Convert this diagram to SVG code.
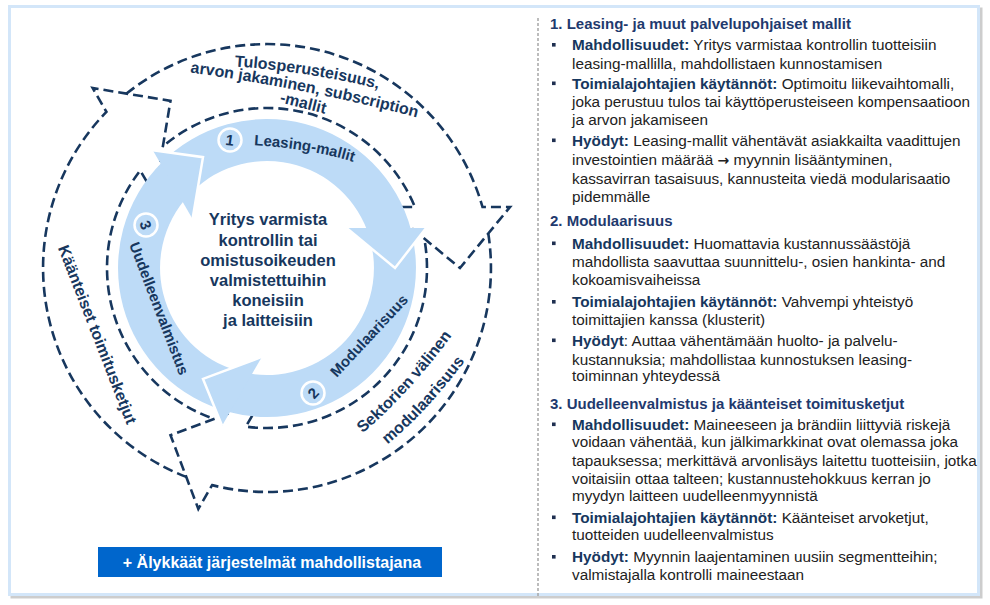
<svg xmlns="http://www.w3.org/2000/svg" width="990" height="605" viewBox="0 0 990 605">
<defs>
<style>
.ring{fill:#bddbf7}
.edge{fill:none;stroke:#fff;stroke-width:2.5;stroke-linejoin:miter}
.dash{fill:none;stroke:#17375e;stroke-width:2.6;stroke-dasharray:10 5}
.lbl{font-family:"Liberation Sans",Arial,sans-serif;font-weight:bold;fill:#17375e;font-size:16px}
.num circle{fill:#bddbf7;stroke:#fff;stroke-width:2.5}
.num text{font-family:"Liberation Sans",Arial,sans-serif;font-weight:bold;fill:#17375e;font-size:15px;text-anchor:middle}
.ctr{font-family:"Liberation Sans",Arial,sans-serif;font-weight:bold;fill:#17375e;font-size:16.5px;text-anchor:middle}
.h{font-family:"Liberation Sans",Arial,sans-serif;font-weight:bold;fill:#1f3a6e;font-size:15px}
.t{font-family:"Liberation Sans",Arial,sans-serif;fill:#222;font-size:15.3px}
.b{font-weight:bold;fill:#17375e}
.arr{font-family:"DejaVu Sans",sans-serif;font-weight:bold;fill:#222}
.bul{fill:#1f2f50}
</style>
<path id="dashArrow" d="M -140.5 -174.4 A 224 224 0 0 1 215.5 -61 L 243 -61 L 193 0 L 119 -61 L 147.9 -61 A 160 160 0 0 0 -104.14 -121.46"/>
<path id="ringBody" d="M -106.39 -104.27 A 149 149 0 0 1 144.07 -38 L 100.02 -38 A 107 107 0 0 0 -84.24 -65.9 Z"/>
<polygon id="ringHead" points="79.6,-40 128,0 159.1,-40"/>
<polyline id="ringEdge" points="79.6,-40 128,0 159.1,-40"/>
<path id="pTop1" d="M236 66.5 Q307.4 71.6 377 88.5"/>
<path id="pTop2" d="M190 72.5 Q304.9 88.1 417 117.5"/>
<path id="pLeasing" d="M250 145 Q311.4 148.2 357 163"/>
<path id="pSek1" d="M364 432 Q406 396.8 451 337"/>
<path id="pSek2" d="M390 442.5 Q426.6 411.8 463 363.5"/>
</defs>

<g id="frame">
<rect x="12" y="9" width="969" height="588" fill="none" stroke="#b8b8b8" stroke-width="3" opacity="0.7"/>
<rect x="9.5" y="6.5" width="969" height="588" fill="#fff" stroke="#d3e6f9" stroke-width="3"/>
<line x1="538" y1="18" x2="538" y2="598" stroke="#a6a6a6" stroke-width="1.5" stroke-dasharray="3 2"/>
</g>

<g id="connectors" class="dash" transform="translate(267 268)">
<use id="arrow-tulos" href="#dashArrow"/>
<use id="arrow-sektorien" href="#dashArrow" transform="rotate(120)"/>
<use id="arrow-kaanteiset" href="#dashArrow" transform="rotate(240)"/>
</g>

<g id="cycle" transform="translate(267 268)">
<use class="ring" href="#ringBody"/>
<use class="ring" href="#ringBody" transform="rotate(120)"/>
<use class="ring" href="#ringBody" transform="rotate(240)"/>
<use class="ring" href="#ringHead"/>
<use class="edge" href="#ringEdge"/>
<use class="ring" href="#ringHead" transform="rotate(120)"/>
<use class="edge" href="#ringEdge" transform="rotate(120)"/>
<use class="ring" href="#ringHead" transform="rotate(240)"/>
<use class="edge" href="#ringEdge" transform="rotate(240)"/>
</g>

<g id="step1" class="num">
<circle cx="230" cy="140" r="11.5"/>
<text x="230" y="145.5" transform="rotate(8 230 140)">1</text>
<text class="lbl"><textPath href="#pLeasing" startOffset="50%" text-anchor="middle">Leasing-mallit</textPath></text>
</g>
<g id="step2" class="num">
<circle cx="313" cy="393" r="11.5"/>
<text x="313" y="398.5" transform="rotate(-47 313 393)">2</text>
<text class="lbl" x="372.9" y="339.2" text-anchor="middle" transform="rotate(-47 372.9 339.2)">Modulaarisuus</text>
</g>
<g id="step3" class="num">
<circle cx="146" cy="225" r="11.5"/>
<text x="146" y="230.5" transform="rotate(69 146 225)">3</text>
<text class="lbl" x="154.3" y="310.4" text-anchor="middle" transform="rotate(69 154.3 310.4)">Uudelleenvalmistus</text>
</g>

<g id="label-tulos">
<text class="lbl"><textPath href="#pTop1" startOffset="50%" text-anchor="middle">Tulosperusteisuus,</textPath></text>
<text class="lbl"><textPath href="#pTop2" startOffset="50%" text-anchor="middle">arvon jakaminen, subscription</textPath></text>
<text class="lbl" x="302" y="108" text-anchor="middle" transform="rotate(14 302 108)">-mallit</text>
</g>
<g id="label-sektorien">
<text class="lbl"><textPath href="#pSek1" startOffset="50%" text-anchor="middle">Sektorien välinen</textPath></text>
<text class="lbl"><textPath href="#pSek2" startOffset="50%" text-anchor="middle">modulaarisuus</textPath></text>
</g>
<g id="label-kaanteiset">
<text class="lbl" x="92.3" y="336.5" text-anchor="middle" transform="rotate(68.7 92.3 336.5)">Käänteiset toimitusketjut</text>
</g>

<g id="center">
<text class="ctr" x="268" y="225">Yritys varmista</text>
<text class="ctr" x="268" y="245.5">kontrollin tai</text>
<text class="ctr" x="268" y="265.5">omistusoikeuden</text>
<text class="ctr" x="268" y="286">valmistettuihin</text>
<text class="ctr" x="268" y="305.5">koneisiin</text>
<text class="ctr" x="268" y="326">ja laitteisiin</text>
</g>

<g id="enabler">
<rect x="98" y="547" width="344" height="30" fill="#0066cc"/>
<text x="272" y="568" text-anchor="middle" font-family="Liberation Sans, Arial, sans-serif" font-weight="bold" font-size="16" fill="#fff">+ Älykkäät järjestelmät mahdollistajana</text>
</g>

<g id="panel">
<g class="bul">
<rect x="552" y="43" width="3.6" height="3.6"/>
<rect x="552" y="81.5" width="3.6" height="3.6"/>
<rect x="552" y="138.5" width="3.6" height="3.6"/>
<rect x="552" y="241.5" width="3.6" height="3.6"/>
<rect x="552" y="300" width="3.6" height="3.6"/>
<rect x="552" y="338.5" width="3.6" height="3.6"/>
<rect x="552" y="422.5" width="3.6" height="3.6"/>
<rect x="552" y="515.5" width="3.6" height="3.6"/>
<rect x="552" y="555" width="3.6" height="3.6"/>
</g>
<text class="h" x="550" y="29">1. Leasing- ja muut palvelupohjaiset mallit</text>
<text class="t" x="572" y="50"><tspan class="b">Mahdollisuudet:</tspan> Yritys varmistaa kontrollin tuotteisiin</text>
<text class="t" x="572" y="68.5">leasing-mallilla, mahdollistaen kunnostamisen</text>
<text class="t" x="572" y="88.5"><tspan class="b">Toimialajohtajien käytännöt:</tspan> Optimoitu liikevaihtomalli,</text>
<text class="t" x="572" y="107">joka perustuu tulos tai käyttöperusteiseen kompensaatioon</text>
<text class="t" x="572" y="125">ja arvon jakamiseen</text>
<text class="t" x="572" y="145.5"><tspan class="b">Hyödyt:</tspan> Leasing-mallit vähentävät asiakkailta vaadittujen</text>
<text class="t" x="572" y="164.5">investointien määrää <tspan class="arr" font-size="14">→</tspan> myynnin lisääntyminen,</text>
<text class="t" x="572" y="183.5">kassavirran tasaisuus, kannusteita viedä modularisaatio</text>
<text class="t" x="572" y="202">pidemmälle</text>

<text class="h" x="550" y="226">2. Modulaarisuus</text>
<text class="t" x="572" y="248.5"><tspan class="b">Mahdollisuudet:</tspan> Huomattavia kustannussäästöjä</text>
<text class="t" x="572" y="266.5">mahdollista saavuttaa suunnittelu-, osien hankinta- and</text>
<text class="t" x="572" y="284.5">kokoamisvaiheissa</text>
<text class="t" x="572" y="307"><tspan class="b">Toimialajohtajien käytännöt:</tspan> Vahvempi yhteistyö</text>
<text class="t" x="572" y="324.5">toimittajien kanssa (klusterit)</text>
<text class="t" x="572" y="345.5"><tspan class="b">Hyödyt</tspan>: Auttaa vähentämään huolto- ja palvelu-</text>
<text class="t" x="572" y="364.5">kustannuksia; mahdollistaa kunnostuksen leasing-</text>
<text class="t" x="572" y="381">toiminnan yhteydessä</text>

<text class="h" x="550" y="408.5">3. Uudelleenvalmistus ja käänteiset toimitusketjut</text>
<text class="t" x="572" y="429.5"><tspan class="b">Mahdollisuudet:</tspan> Maineeseen ja brändiin liittyviä riskejä</text>
<text class="t" x="572" y="447">voidaan vähentää, kun jälkimarkkinat ovat olemassa joka</text>
<text class="t" x="572" y="466">tapauksessa; merkittävä arvonlisäys laitettu tuotteisiin, jotka</text>
<text class="t" x="572" y="483.5">voitaisiin ottaa talteen; kustannustehokkuus kerran jo</text>
<text class="t" x="572" y="501">myydyn laitteen uudelleenmyynnistä</text>
<text class="t" x="572" y="522.5"><tspan class="b">Toimialajohtajien käytännöt:</tspan> Käänteiset arvoketjut,</text>
<text class="t" x="572" y="540">tuotteiden uudelleenvalmistus</text>
<text class="t" x="572" y="562"><tspan class="b">Hyödyt:</tspan> Myynnin laajentaminen uusiin segmentteihin;</text>
<text class="t" x="572" y="579.5">valmistajalla kontrolli maineestaan</text>
</g>
</svg>
